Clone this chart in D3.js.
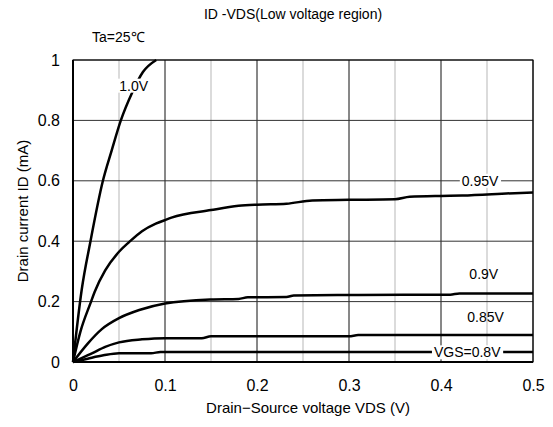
<!DOCTYPE html>
<html>
<head>
<meta charset="utf-8">
<script src="https://cdn.jsdelivr.net/npm/d3@7"></script>
<style>
body { margin: 0; background: #fff; }
text { font-family: "Liberation Sans", Arial, sans-serif; fill: #000; }
</style>
</head>
<body>
<div id="chart"></div>
<script>
// Data (VDS in V, ID in mA)
var xTicks = [0, 0.1, 0.2, 0.3, 0.4, 0.5];
var xMinor = [0.05, 0.15, 0.25, 0.35, 0.45];
var yTicks = [0, 0.2, 0.4, 0.6, 0.8, 1];
var yTickLabels = ["0", "0.2", "0.4", "0.6", "0.8", "1"];

var vds08 = [0, 0.016, 0.033, 0.05, 0.085, 0.095, 0.5];
var id08 = [0, 0.011, 0.022, 0.029, 0.029, 0.033, 0.033];

var vds085 = [0, 0.02, 0.035, 0.05, 0.075, 0.1, 0.14, 0.15, 0.3, 0.31, 0.5];
var id085 = [0, 0.028, 0.05, 0.065, 0.075, 0.079, 0.079, 0.085, 0.085, 0.089, 0.089];

var vds09 = [0, 0.016, 0.031, 0.05, 0.072, 0.1, 0.15, 0.18, 0.19, 0.232, 0.24, 0.31, 0.41, 0.42, 0.5];
var id09 = [0, 0.061, 0.108, 0.145, 0.172, 0.194, 0.207, 0.209, 0.214, 0.215, 0.22, 0.222, 0.223, 0.227, 0.227];

var vds095 = [0, 0.008, 0.019, 0.0235, 0.035, 0.05, 0.061, 0.075, 0.09, 0.1, 0.107, 0.15, 0.18, 0.2, 0.232, 0.26, 0.3, 0.35, 0.366, 0.4, 0.423, 0.48, 0.5];
var id095 = [0, 0.1, 0.195, 0.232, 0.303, 0.365, 0.397, 0.433, 0.458, 0.47, 0.478, 0.503, 0.517, 0.521, 0.524, 0.535, 0.537, 0.539, 0.547, 0.55, 0.551, 0.559, 0.561];

var vds10 = [0, 0.0095, 0.019, 0.0325, 0.042, 0.052, 0.064, 0.076, 0.0905];
var id10 = [0, 0.24, 0.4, 0.6, 0.7, 0.8, 0.89, 0.96, 1.0];

var w = 553, h = 427;
var pLeft = 73, pRight = 533, pTop = 60, pBottom = 362;

var svg = d3.select("#chart").append("svg").attr("width", w).attr("height", h);

var x = d3.scaleLinear().domain([0, 0.5]).range([pLeft, pRight]);
var y = d3.scaleLinear().domain([0, 1]).range([pBottom, pTop]);

// minor vertical grid (light grey)
svg.selectAll("line.minor").data(xMinor).enter().append("line")
	.attr("x1", function(d){ return x(d); }).attr("x2", function(d){ return x(d); })
	.attr("y1", pTop).attr("y2", pBottom)
	.attr("stroke", "#cfcfcf").attr("stroke-width", 1.5);

// major grid
svg.selectAll("line.vx").data(xTicks).enter().append("line")
	.attr("x1", function(d){ return x(d); }).attr("x2", function(d){ return x(d); })
	.attr("y1", pTop).attr("y2", pBottom)
	.attr("stroke", "#111").attr("stroke-width", 1);
svg.selectAll("line.hy").data(yTicks).enter().append("line")
	.attr("x1", pLeft).attr("x2", pRight)
	.attr("y1", function(d){ return y(d); }).attr("y2", function(d){ return y(d); })
	.attr("stroke", "#333").attr("stroke-width", 1);

// frame
svg.append("rect").attr("x", pLeft).attr("y", pTop).attr("width", pRight - pLeft).attr("height", pBottom - pTop)
	.attr("fill", "none").attr("stroke", "#000").attr("stroke-width", 1);
svg.append("line").attr("x1", pLeft).attr("x2", pRight).attr("y1", pBottom).attr("y2", pBottom)
	.attr("stroke", "#000").attr("stroke-width", 2);
svg.append("line").attr("x1", pLeft).attr("x2", pLeft).attr("y1", pTop).attr("y2", pBottom)
	.attr("stroke", "#000").attr("stroke-width", 2);

// axes: labels only
var xAxis = d3.axisBottom(x).tickValues(xTicks).tickSize(0).tickPadding(0).tickFormat(d3.format("~g"));
svg.append("g").attr("transform", "translate(0," + (pBottom + 18) + ")").call(xAxis)
	.call(function(g){ g.select(".domain").remove(); })
	.selectAll("text").attr("font-size", 16).attr("font-family", "Liberation Sans, Arial, sans-serif");

var yAxis = d3.axisLeft(y).tickValues(yTicks).tickSize(0).tickPadding(0)
	.tickFormat(function(d, i){ return yTickLabels[i]; });
svg.append("g").attr("transform", "translate(" + (pLeft - 13) + ",0)").call(yAxis)
	.call(function(g){ g.select(".domain").remove(); })
	.selectAll("text").attr("font-size", 16).attr("font-family", "Liberation Sans, Arial, sans-serif");

// curves
var series = [
	{v: vds08, i: id08},
	{v: vds085, i: id085},
	{v: vds09, i: id09},
	{v: vds095, i: id095},
	{v: vds10, i: id10}
];
var line = d3.line()
	.x(function(d){ return x(d[0]); })
	.y(function(d){ return y(d[1]); })
	.curve(d3.curveMonotoneX);

svg.selectAll("path.curve").data(series).enter().append("path")
	.attr("class", "curve")
	.attr("d", function(s){ return line(d3.zip(s.v, s.i)); })
	.attr("fill", "none").attr("stroke", "#000").attr("stroke-width", 2.5);

// curve labels with white backgrounds
var labels = [
	{t: "1.0V", vx: 0.066, vy: 0.915, bg: true},
	{t: "0.95V", vx: 0.4425, vy: 0.6, bg: true},
	{t: "0.9V", vx: 0.4465, vy: 0.29, bg: false},
	{t: "0.85V", vx: 0.4485, vy: 0.15, bg: false},
	{t: "VGS=0.8V", vx: 0.4285, vy: 0.032, bg: true}
];
labels.forEach(function(l){
	var g = svg.append("g");
	var t = g.append("text").attr("x", x(l.vx)).attr("y", y(l.vy) + 5)
		.attr("text-anchor", "middle").attr("font-size", 14).text(l.t);
	if (l.bg) {
		var b = t.node().getBBox();
		g.insert("rect", "text").attr("x", b.x - 2).attr("y", b.y + 1)
			.attr("width", b.width + 4).attr("height", b.height - 2).attr("fill", "#fff");
	}
});

// titles
svg.append("text").attr("x", 293).attr("y", 19).attr("text-anchor", "middle")
	.attr("font-size", 14).text("ID -VDS(Low voltage region)");
svg.append("text").attr("x", 92).attr("y", 42).attr("font-size", 14).text("Ta=25\u2103");
svg.append("text").attr("x", 308).attr("y", 413).attr("text-anchor", "middle")
	.attr("font-size", 15).text("Drain\u2212Source voltage VDS (V)");
svg.append("text").attr("transform", "translate(28,211) rotate(-90)").attr("text-anchor", "middle")
	.attr("font-size", 15).text("Drain current  ID (mA)");
</script>
</body>
</html>
